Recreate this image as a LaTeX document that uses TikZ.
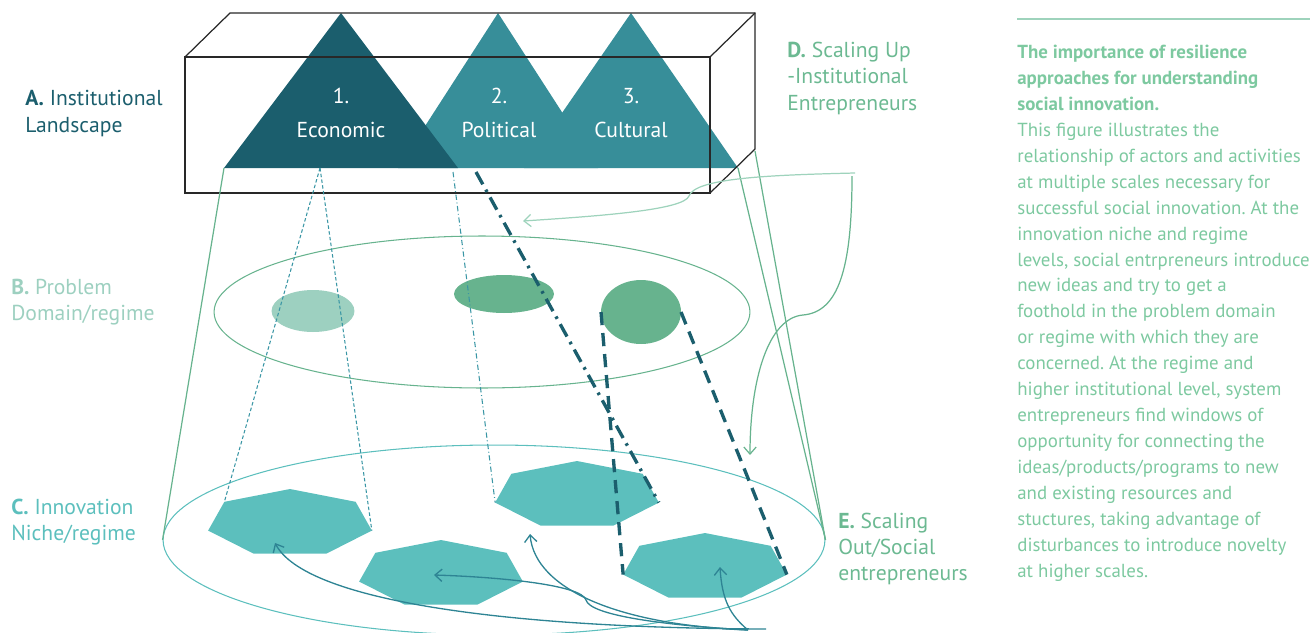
\documentclass[tikz,border=0pt]{standalone}
\usepackage{fontspec}
\setmainfont{PT Sans}
\usetikzlibrary{shapes.geometric,arrows.meta}
\frenchspacing

\definecolor{darkteal}{RGB}{27,94,109}
\definecolor{midteal}{RGB}{55,142,153}
\definecolor{hexteal}{RGB}{92,191,189}
\definecolor{arrteal}{RGB}{46,132,148}
\definecolor{dashteal}{RGB}{58,150,165}
\definecolor{domgreen}{RGB}{103,179,142}
\definecolor{lightdom}{RGB}{157,208,192}
\definecolor{labgreen}{RGB}{108,185,146}
\definecolor{txtgreen}{RGB}{125,201,160}
\definecolor{palegreen}{RGB}{158,211,188}
\definecolor{boxgray}{RGB}{40,40,40}

\begin{document}
\begin{tikzpicture}[x=0.02cm,y=-0.02cm,
    >={Straight Barb[length=4pt,width=7pt]},
    boxline/.style={boxgray,line width=0.7pt},
    heptagon/.style={regular polygon,regular polygon sides=7,fill=hexteal,
      minimum size=1.36cm,inner sep=0pt,outer sep=0pt,xscale=2.47},
    blob/.style={ellipse,inner sep=0pt,outer sep=0pt},
    layer/.style={ellipse,draw,line width=0.6pt,inner sep=0pt},
    cone/.style={domgreen,line width=0.7pt},
    fineproj/.style={dashteal,line width=0.6pt,dash pattern=on 2pt off 1.3pt},
    finedot/.style={dashteal,line width=0.6pt,dash pattern=on 3pt off 1.5pt on 0.5pt off 1.5pt},
    boldproj/.style={darkteal,line width=1.9pt,dash pattern=on 7.5pt off 4.5pt},
    bolddot/.style={darkteal,line width=1.9pt,dash pattern=on 8pt off 3.5pt on 1.5pt off 3.5pt},
    spread/.style={->,arrteal,line width=0.75pt},
    sidelabel/.style={anchor=base west,align=left,inner sep=0pt,
      font=\fontsize{12.3}{14.8}\selectfont},
    trilabel/.style={white,align=center,inner sep=0pt,anchor=base,
      font=\fontsize{12.3}{14.8}\selectfont}
  ]
\useasboundingbox (0,0) rectangle (1310,632);

% institutional landscape
\fill[midteal] (498,13) -- (598,168) -- (398,168) -- cycle;
\fill[midteal] (631,13) -- (738,168) -- (524,168) -- cycle;
\fill[darkteal] (341,13) -- (458,168) -- (224,168) -- cycle;
\node[trilabel] (econ) at (341,137) {1.\\[4.2pt]Economic};
\node[trilabel] (pol)  at (499,137) {2.\\[4.2pt]Political};
\node[trilabel] (cult) at (631,137) {3.\\[4.2pt]Cultural};

\draw[boxline] (185,57) rectangle (710,193);
\draw[boxline] (185,57) -- (230,13) -- (755,13) -- (755,149) -- (710,193);
\draw[boxline] (710,57) -- (755,13);

\coordinate (t1left) at (224,168);
\coordinate (t3right) at (738,168);
\coordinate (boxcorner) at (755,151);
\coordinate (econfoot) at (320,168);
\coordinate (polfoot) at (453,172);
\coordinate (polfoot2) at (476,172);

% problem domain and niche levels
\node[layer,domgreen,minimum width=10.72cm,minimum height=3.04cm] (domain) at (482,312) {};
\node[layer,hexteal,minimum width=13.24cm,minimum height=3.8cm] (niche) at (494,540) {};

\node[blob,fill=lightdom,minimum width=1.66cm,minimum height=0.84cm] (dom1) at (313,311) {};
\node[blob,fill=domgreen,minimum width=2cm,minimum height=0.76cm] (dom2) at (504,294) {};
\node[blob,fill=domgreen,minimum width=1.6cm,minimum height=1.28cm] (dom3) at (641,312) {};

\node[heptagon] (hex1) at (290,523) {};
\node[heptagon] (hex2) at (577,495) {};
\node[heptagon] (hex3) at (705,567) {};
\node[heptagon] (hex4) at (441,574) {};

\draw[cone] (t1left) -- (niche.west);
\draw[cone] (t3right) -- (niche.east);
\draw[cone] (boxcorner) -- (niche.east);

\draw[fineproj] (econfoot) -- (hex1.corner 2);
\draw[fineproj] (econfoot) -- (hex1.corner 6);
\draw[finedot] (polfoot) -- (hex2.corner 3);
\draw[bolddot] (polfoot2) -- (hex2.corner 6);
\draw[boldproj] (dom3.west) -- (hex3.corner 3);
\draw[boldproj] (dom3.east) -- (hex3.corner 6);

% scaling up arrows
\coordinate (upstart) at (855,173);
\coordinate (uptip) at (523,221);
\coordinate (outstart) at (852,176);
\coordinate (outtip) at (750,455);
\draw[->,palegreen,line width=0.7pt] (upstart) .. controls (770,175) and (695,178) .. (689,196)
  .. controls (684,210) and (600,216) .. (uptip);
\draw[->,domgreen,line width=0.7pt] (outstart) .. controls (852,270) and (838,312) .. (803,315)
  .. controls (768,318) and (750,380) .. (outtip);

% scaling out arrows
\coordinate (root) at (748,630);
\coordinate (rootend) at (766,629);
\coordinate (tip1) at (275,543);
\coordinate (tip2) at (530,534);
\coordinate (tip3) at (720,567);
\coordinate (tip4) at (434,575);
\draw[spread] (rootend) .. controls (500,628) and (305,600) .. (tip1);
\draw[spread] (root) .. controls (660,625) and (590,615) .. (586,600)
  .. controls (582,585) and (500,577) .. (tip4);
\draw[spread] (root) .. controls (620,625) and (535,590) .. (tip2);
\draw[spread] (root) .. controls (730,615) and (722,600) .. (tip3);

% labels
\node[sidelabel,darkteal] (labA) at (25,132) {\textbf{A.} Institutional\\Landscape};
\node[sidelabel,lightdom] (labB) at (11,320) {\textbf{B.} Problem\\Domain/regime};
\node[sidelabel,hexteal] (labC) at (11,540) {\textbf{C.} Innovation\\Niche/regime};
\node[sidelabel,labgreen] (labD) at (787,110) {\textbf{D.} Scaling Up\\-Institutional\\Entrepreneurs};
\node[sidelabel,labgreen] (labE) at (838,580) {\textbf{E.} Scaling\\Out/Social\\entrepreneurs};

% caption
\draw[palegreen,line width=0.7pt] (1017,19) -- (1310,19);
\node[anchor=base west,align=left,inner sep=0pt,txtgreen,
  font=\fontsize{10.75}{14.75}\selectfont] (caption) at (1017,577)
  {\textbf{The importance of resilience}\\
   \textbf{approaches for understanding}\\
   \textbf{social innovation.}\\
   This figure illustrates the\\
   relationship of actors and activities\\
   at multiple scales necessary for\\
   successful social innovation. At the\\
   innovation niche and regime\\
   levels, social entrpreneurs introduce\\
   new ideas and try to get a\\
   foothold in the problem domain\\
   or regime with which they are\\
   concerned. At the regime and\\
   higher institutional level, system\\
   entrepreneurs find windows of\\
   opportunity for connecting the\\
   ideas/products/programs to new\\
   and existing resources and\\
   stuctures, taking advantage of\\
   disturbances to introduce novelty\\
   at higher scales.};
\end{tikzpicture}
\end{document}
